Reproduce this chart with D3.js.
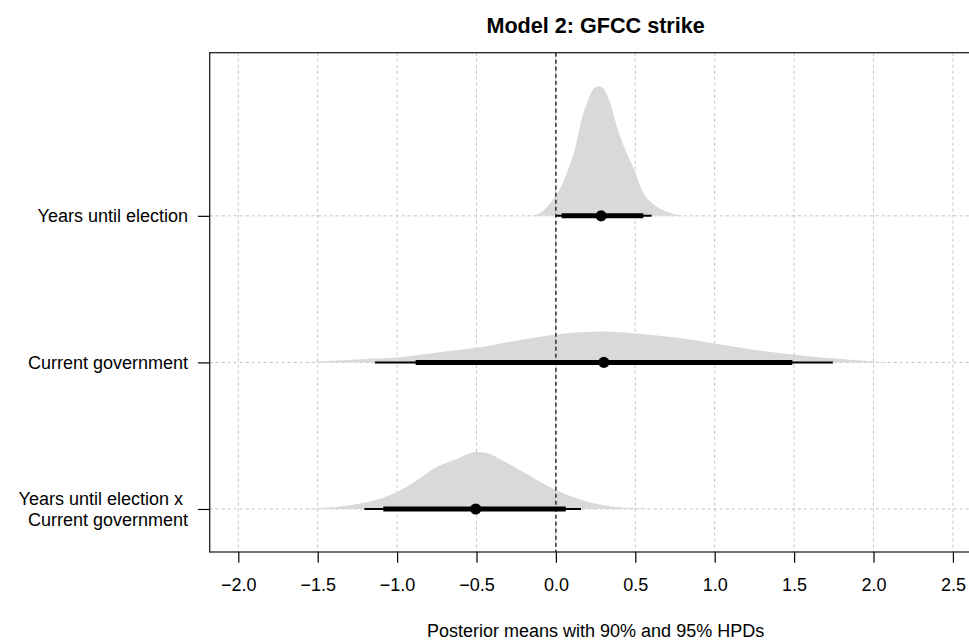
<!DOCTYPE html>
<html><head><meta charset="utf-8">
<script src="https://cdn.jsdelivr.net/npm/d3@7"></script>
<style>
body{margin:0;background:#fff}
svg{display:block}
text{font-family:"Liberation Sans",Arial,Helvetica,sans-serif;fill:#000}
</style>
</head><body>
<svg id="chart" width="969" height="644"></svg>
<script>
// ---------- data ----------
const title = "Model 2: GFCC strike";
const xLabel = "Posterior means with 90% and 95% HPDs";
const categories = [
  ["Years until election"],
  ["Current government"],
  ["Years until election x\u00a0", "Current government"]
];
const rowPositions = [3, 2, 1];
const xTicks = [-2.0, -1.5, -1.0, -0.5, 0.0, 0.5, 1.0, 1.5, 2.0, 2.5];
const xLimits = [-2.0, 2.5];

const means     = [0.285, 0.302, -0.505];
const hpd90Low  = [0.036, -0.883, -1.087];
const hpd90High = [0.550, 1.489, 0.062];
const hpd95Low  = [0.000, -1.139, -1.206];
const hpd95High = [0.603, 1.744, 0.158];

// posterior density curves (x value, density)
const densX1 = [-0.152,-0.079,-0.016,0.036,0.078,0.120,0.162,0.194,0.236,0.267,0.298,0.341,0.383,0.435,0.487,0.550,0.613,0.698,0.802];
const densY1 = [0,0.106,0.353,0.634,0.987,1.41,2.04,2.36,2.68,2.73,2.69,2.40,1.90,1.41,1.02,0.49,0.25,0.085,0];
const densX2 = [-1.58,-1.5,-1.31,-1.14,-1.0,-0.71,-0.5,-0.276,0.0,0.30,0.5,0.74,1.0,1.34,1.5,1.75,2.0,2.1];
const densY2 = [0,0.02,0.05,0.08,0.106,0.226,0.307,0.444,0.592,0.655,0.613,0.529,0.402,0.226,0.163,0.08,0.02,0];
const densX3 = [-1.6,-1.51,-1.25,-1.0,-0.9,-0.75,-0.625,-0.5,-0.436,-0.33,-0.205,-0.12,0.0,0.13,0.257,0.40,0.57,0.6];
const densY3 = [0,0.015,0.106,0.359,0.55,0.888,1.057,1.205,1.184,1.015,0.782,0.613,0.402,0.226,0.106,0.036,0.006,0];
const densX = [densX1, densX2, densX3];
const densY = [densY1, densY2, densY3];
const densityScale = 0.323;

// ---------- layout ----------
const svg = d3.select("#chart");
const plot = {left: 209.7, right: 981.5, top: 52.7, bottom: 552};
const xPad = (xLimits[1] - xLimits[0]) * 0.04;
const x = d3.scaleLinear().domain([xLimits[0] - xPad, xLimits[1] + xPad]).range([plot.left, plot.right]);
const y = d3.scaleLinear().domain([0.7065, 4.113]).range([plot.bottom, plot.top]);

// grid
const grid = svg.append("g");
grid.selectAll("line.v").data(xTicks).join("line")
  .attr("x1", d => x(d)).attr("x2", d => x(d))
  .attr("y1", plot.top).attr("y2", plot.bottom)
  .attr("stroke", "#c4c4c4").attr("stroke-width", 1).attr("stroke-dasharray", "3,3");
grid.selectAll("line.h").data(rowPositions).join("line")
  .attr("x1", plot.left).attr("x2", plot.right)
  .attr("y1", d => y(d)).attr("y2", d => y(d))
  .attr("stroke", "#c4c4c4").attr("stroke-width", 1).attr("stroke-dasharray", "3,3");

// densities
const area = d3.area()
  .x(d => x(d[0]))
  .y0(d => y(d[2]))
  .y1(d => y(d[2] + d[1] * densityScale))
  .curve(d3.curveMonotoneX);
rowPositions.forEach((r, i) => {
  const pts = densX[i].map((v, j) => [v, densY[i][j], r]);
  svg.append("path").datum(pts).attr("d", area).attr("fill", "#d9d9d9");
});

// zero line
svg.append("line")
  .attr("x1", x(0)).attr("x2", x(0)).attr("y1", plot.top).attr("y2", plot.bottom)
  .attr("stroke", "#000").attr("stroke-width", 1.2).attr("stroke-dasharray", "4,3");

// HPD intervals and means
const marks = svg.append("g");
marks.selectAll("line.h95").data(rowPositions).join("line")
  .attr("x1", (d, i) => x(hpd95Low[i])).attr("x2", (d, i) => x(hpd95High[i]))
  .attr("y1", d => y(d)).attr("y2", d => y(d))
  .attr("stroke", "#000").attr("stroke-width", 2);
marks.selectAll("line.h90").data(rowPositions).join("line")
  .attr("x1", (d, i) => x(hpd90Low[i])).attr("x2", (d, i) => x(hpd90High[i]))
  .attr("y1", d => y(d)).attr("y2", d => y(d))
  .attr("stroke", "#000").attr("stroke-width", 5);
marks.selectAll("circle").data(rowPositions).join("circle")
  .attr("cx", (d, i) => x(means[i])).attr("cy", d => y(d)).attr("r", 5.6)
  .attr("fill", "#000");

// box
svg.append("rect")
  .attr("x", plot.left).attr("y", plot.top)
  .attr("width", plot.right - plot.left).attr("height", plot.bottom - plot.top)
  .attr("fill", "none").attr("stroke", "#222").attr("stroke-width", 1.3);

// x axis
const xAxis = svg.append("g").attr("transform", `translate(0,${plot.bottom})`)
  .call(d3.axisBottom(x).tickValues(xTicks).tickFormat(d3.format(".1f")).tickSize(10.8));
xAxis.select(".domain").remove();
xAxis.selectAll(".tick line").attr("stroke", "#000").attr("stroke-width", 1.2);
xAxis.selectAll(".tick text").attr("y", 39).attr("dy", null)
  .style("font-size", "18px").style("font-family", '"Liberation Sans",Arial,sans-serif').attr("fill", "#000");

// y axis
const yAxis = svg.append("g").attr("transform", `translate(${plot.left},0)`)
  .call(d3.axisLeft(y).tickValues(rowPositions).tickFormat("").tickSize(11.7));
yAxis.select(".domain").remove();
yAxis.selectAll(".tick line").attr("stroke", "#000").attr("stroke-width", 1.2);

// y labels
rowPositions.forEach((r, i) => {
  const lines = categories[i];
  const n = lines.length;
  const t = svg.append("text").attr("text-anchor", "end").style("font-size", "18px").style("white-space", "pre");
  lines.forEach((ln, k) => {
    t.append("tspan").attr("x", 188)
      .attr("y", y(r) + 6.5 + (k - (n - 1) / 2) * 21.6)
      .text(ln);
  });
});

// title and x label
const cx = (plot.left + plot.right) / 2;
svg.append("text").attr("x", cx).attr("y", 33).attr("text-anchor", "middle")
  .style("font-size", "21.6px").style("font-weight", "bold").text(title);
svg.append("text").attr("x", cx).attr("y", 637).attr("text-anchor", "middle")
  .style("font-size", "18px").text(xLabel);
</script>
</body></html>
